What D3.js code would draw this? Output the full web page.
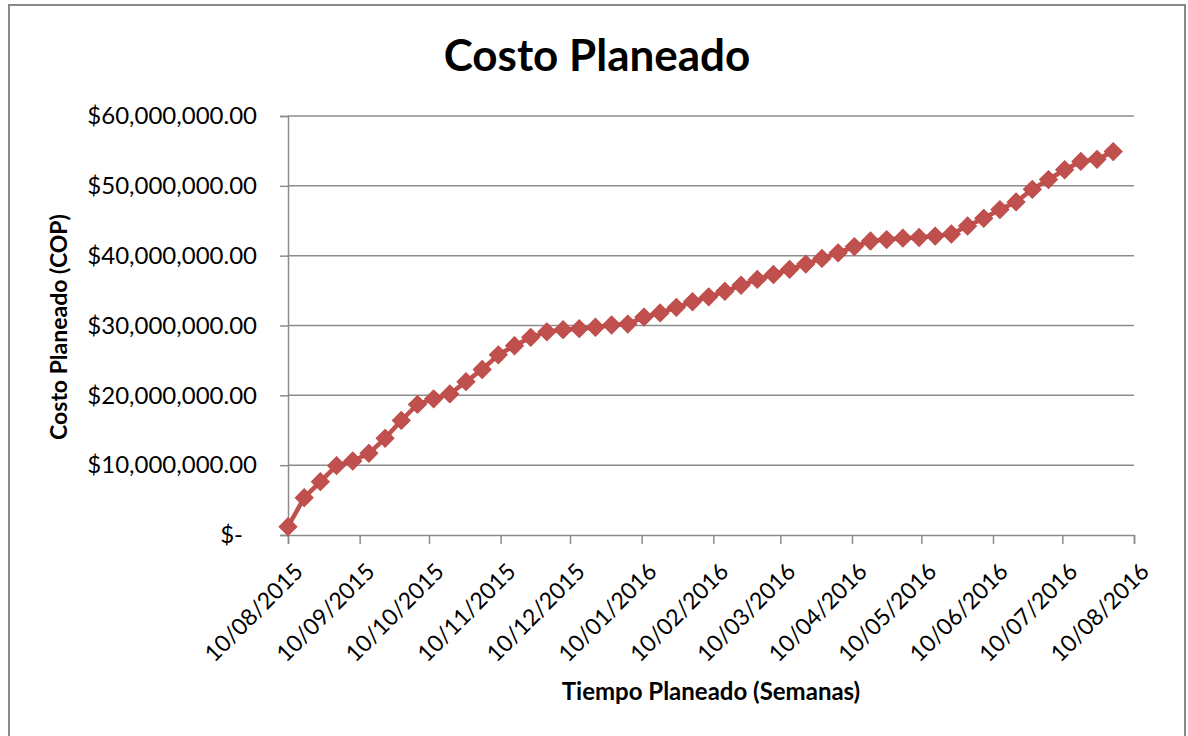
<!DOCTYPE html>
<html>
<head>
<meta charset="utf-8">
<script src="https://cdn.jsdelivr.net/npm/d3@7"></script>
<style>
  html, body { margin: 0; padding: 0; background: #fff; }
  svg { display: block; }
</style>
</head>
<body>
<svg id="chart" width="1188" height="736"></svg>
<script>
// ---- Data ----
const startDate = "2015-08-10";
// Planned cost (millions COP), one value per week
const costMillions = [
  1.19, 5.34, 7.63, 9.93, 10.6, 11.7, 13.85, 16.4, 18.7, 19.5,
  20.2, 21.96, 23.7, 25.8, 27.1, 28.3, 29.1, 29.4, 29.55, 29.75,
  30.07, 30.2, 31.2, 31.8, 32.6, 33.4, 34.1, 34.9, 35.76, 36.6,
  37.3, 38.05, 38.8, 39.6, 40.4, 41.3, 42.1, 42.3, 42.5, 42.6,
  42.8, 43.1, 44.25, 45.35, 46.6, 47.7, 49.5, 50.9, 52.3, 53.5,
  53.8, 54.9
];
const yTicks = [0, 10000000, 20000000, 30000000, 40000000, 50000000, 60000000];
const xTickDates = [
  "2015-08-10","2015-09-10","2015-10-10","2015-11-10","2015-12-10",
  "2016-01-10","2016-02-10","2016-03-10","2016-04-10","2016-05-10",
  "2016-06-10","2016-07-10","2016-08-10"
];
const titleText = "Costo Planeado";
const yTitle = "Costo Planeado (COP)";
const xTitle = "Tiempo Planeado (Semanas)";

// ---- Build ----
const parse = d3.utcParse("%Y-%m-%d");
const fmtTick = d3.utcFormat("%d/%m/%Y");
const t0 = parse(startDate);
const data = costMillions.map((v, i) => ({ date: d3.utcDay.offset(t0, i * 7), value: v * 1e6 }));

const svg = d3.select("#chart");
const FONT = "Lato, 'Open Sans', sans-serif";
const plot = { left: 288, right: 1134, top: 116, bottom: 535 };

// outer frame
svg.append("path")
  .attr("d", "M9,740 L9,5 L1185,5 L1185,740")
  .attr("fill", "none").attr("stroke", "#898989").attr("stroke-width", 2);

const x = d3.scaleUtc()
  .domain([parse(xTickDates[0]), parse(xTickDates[xTickDates.length - 1])])
  .range([plot.left, plot.right]);
const y = d3.scaleLinear().domain([0, 60000000]).range([plot.bottom, plot.top]);

// gridlines
svg.append("g").selectAll("line").data(yTicks.filter(d => d > 0)).join("line")
  .attr("x1", plot.left).attr("x2", plot.right)
  .attr("y1", d => y(d)).attr("y2", d => y(d))
  .attr("stroke", "#8c8c8c").attr("stroke-width", 1.5);

// y axis
const money = d3.format(",.2f");
const yAxis = svg.append("g").attr("transform", `translate(${plot.left},0)`)
  .call(d3.axisLeft(y).tickValues(yTicks).tickSize(8).tickPadding(23)
    .tickFormat(d => d === 0 ? "$-" : "$" + money(d)));
yAxis.select(".domain").attr("stroke", "#8c8c8c").attr("stroke-width", 1.5);
yAxis.selectAll(".tick line").attr("stroke", "#8c8c8c").attr("stroke-width", 1.5);
yAxis.selectAll(".tick text").attr("font-family", FONT).attr("font-size", 24).attr("fill", "#000");
yAxis.selectAll(".tick text").filter(d => d === 0).attr("dx", -14);

// x axis
const xAxis = svg.append("g").attr("transform", `translate(0,${plot.bottom})`)
  .call(d3.axisBottom(x).tickValues(xTickDates.map(parse)).tickSize(9).tickFormat(fmtTick));
xAxis.select(".domain").attr("stroke", "#8c8c8c").attr("stroke-width", 1.5);
xAxis.selectAll(".tick line").attr("stroke", "#8c8c8c").attr("stroke-width", 1.5);
xAxis.selectAll(".tick text")
  .attr("font-family", FONT).attr("font-size", 23).attr("fill", "#000")
  .attr("text-anchor", "end")
  .attr("transform", "translate(16,38) rotate(-45)")
  .attr("x", 0).attr("y", 0).attr("dy", 0);

// line
svg.append("path").datum(data)
  .attr("fill", "none").attr("stroke", "#C0504D").attr("stroke-width", 4.5)
  .attr("stroke-linejoin", "round")
  .attr("d", d3.line().x(d => x(d.date)).y(d => y(d.value)));

// markers
const diamond = d3.symbol().type(d3.symbolSquare).size(160);
svg.append("g").selectAll("path").data(data).join("path")
  .attr("d", diamond)
  .attr("transform", d => `translate(${x(d.date)},${y(d.value)}) rotate(45)`)
  .attr("fill", "#C0504D").attr("stroke", "#BE4B48").attr("stroke-width", 1);

// titles
svg.append("text").attr("x", 597).attr("y", 71).attr("text-anchor", "middle")
  .attr("font-family", FONT).attr("font-weight", "bold").attr("font-size", 44).attr("fill", "#000")
  .text(titleText);
svg.append("text").attr("transform", "translate(67,327) rotate(-90)").attr("text-anchor", "middle")
  .attr("font-family", FONT).attr("font-weight", "bold").attr("font-size", 23).attr("fill", "#000")
  .text(yTitle);
svg.append("text").attr("x", 711).attr("y", 700).attr("text-anchor", "middle")
  .attr("font-family", FONT).attr("font-weight", "bold").attr("font-size", 24).attr("fill", "#000")
  .text(xTitle);
</script>
</body>
</html>
